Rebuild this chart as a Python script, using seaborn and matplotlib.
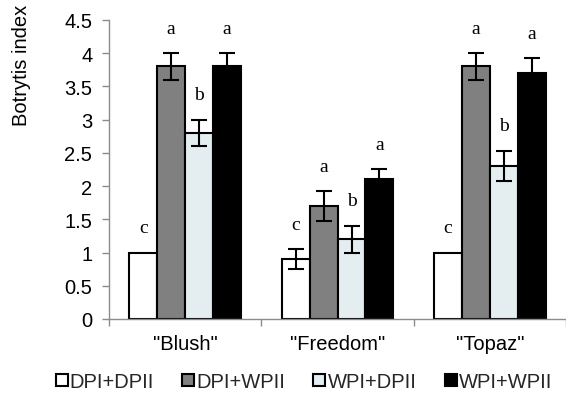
import matplotlib
matplotlib.use("Agg")
import matplotlib.pyplot as plt
from matplotlib.lines import Line2D
import seaborn as sns
import pandas as pd
import numpy as np

# Data: Botrytis index per cultivar and treatment
cultivars = ['"Blush"', '"Freedom"', '"Topaz"']
treatments = ["DPI+DPII", "DPI+WPII", "WPI+DPII", "WPI+WPII"]
values = {
    "DPI+DPII": [1.0, 0.9, 1.0],
    "DPI+WPII": [3.8, 1.7, 3.8],
    "WPI+DPII": [2.8, 1.2, 2.3],
    "WPI+WPII": [3.8, 2.1, 3.7],
}
errors = {
    "DPI+DPII": [0.0, 0.15, 0.0],
    "DPI+WPII": [0.2, 0.22, 0.2],
    "WPI+DPII": [0.2, 0.2, 0.23],
    "WPI+WPII": [0.2, 0.15, 0.22],
}
letters = {
    "DPI+DPII": ["c", "c", "c"],
    "DPI+WPII": ["a", "a", "a"],
    "WPI+DPII": ["b", "b", "b"],
    "WPI+WPII": ["a", "a", "a"],
}
colors = ["#ffffff", "#808080", "#e2eff3", "#000000"]

rows = []
for t in treatments:
    for i, c in enumerate(cultivars):
        rows.append({"cultivar": c, "treatment": t, "value": values[t][i],
                     "err": errors[t][i], "letter": letters[t][i]})
df = pd.DataFrame(rows)

sns.set_theme(style="white")
plt.rcParams["font.family"] = ["Liberation Sans", "DejaVu Sans"]

FS = 14.5

fig = plt.figure(figsize=(5.66, 4.02), dpi=100)
ax = fig.add_axes([0.1926, 0.204, 0.8074, 0.744])

sns.barplot(data=df, x="cultivar", y="value", hue="treatment",
            hue_order=treatments, order=cultivars, palette=colors,
            width=0.735, errorbar=None, edgecolor="black", linewidth=1.5,
            legend=False, ax=ax, zorder=2)

# error bars and significance letters over each bar
for t, cont in zip(treatments, ax.containers):
    for i, bar in enumerate(cont):
        x = bar.get_x() + bar.get_width() / 2
        h = bar.get_height()
        e = errors[t][i]
        if e > 0:
            ax.errorbar(x, h, yerr=e, fmt="none", ecolor="black",
                        elinewidth=1.5, capsize=6, capthick=1.5, zorder=3)
        ax.text(x, h + e + 0.31, letters[t][i], ha="center", va="baseline",
                fontsize=14, family=["Liberation Serif", "DejaVu Serif"],
                color="black")

ax.set_ylim(0, 4.5)
ax.set_xlim(-0.5, 2.47)
ax.set_yticks(np.arange(0, 4.51, 0.5))
ax.set_yticklabels(["0", "0.5", "1", "1.5", "2", "2.5", "3", "3.5", "4", "4.5"])
ax.set_xlabel("")
ax.set_ylabel("Botrytis index", fontsize=FS, color="black")
# y-axis title sits beside the upper part of the scale
ax.yaxis.set_label_coords(-0.17, 0.85)

for side in ["top", "right"]:
    ax.spines[side].set_visible(False)
for side in ["left", "bottom"]:
    ax.spines[side].set_color("#8c8c8c")
    ax.spines[side].set_linewidth(1.0)

ax.tick_params(axis="y", which="major", direction="out", length=5,
               color="#8c8c8c", width=1, labelsize=FS, labelcolor="black",
               pad=7, left=True)
ax.tick_params(axis="x", which="major", length=0, labelsize=FS,
               labelcolor="black", pad=11)
ax.set_xticks([-0.5, 0.5, 1.5, 2.5], minor=True)
ax.tick_params(axis="x", which="minor", direction="out", length=5,
               color="#8c8c8c", width=1, bottom=True)
ax.grid(False)

handles = [Line2D([], [], marker="s", linestyle="none", markersize=9,
                  markerfacecolor=c, markeredgecolor="black",
                  markeredgewidth=1.5) for c in colors]
fig.legend(handles, treatments, loc="lower center", ncol=4, frameon=False,
           bbox_to_anchor=(0.535, -0.02), fontsize=FS, handletextpad=0.0,
           columnspacing=1.3, handlelength=0.8)

fig.savefig("out.png", dpi=100)
